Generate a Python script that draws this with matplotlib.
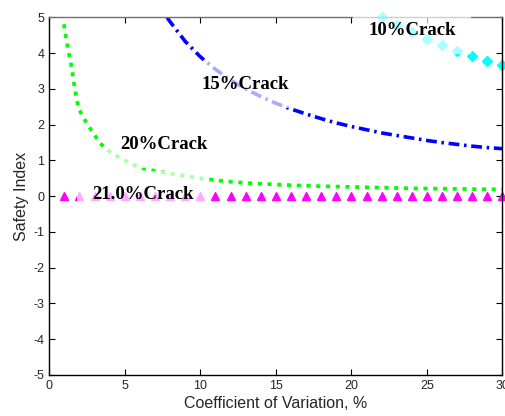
import numpy as np
import matplotlib.pyplot as plt

plt.rcParams["axes.unicode_minus"] = False

# data
x10 = [22, 23, 24, 25, 26, 27, 28, 29, 30]
y10 = [5.0, 4.78, 4.58, 4.40, 4.23, 4.07, 3.93, 3.79, 3.67]

x15 = [7.8, 8, 9, 10, 11, 12, 13, 14, 15, 16, 17, 18, 19, 20, 21, 22, 23, 24, 25, 26, 27, 28, 29, 30]
y15 = [5.0, 4.88, 4.33, 3.90, 3.55, 3.25, 3.00, 2.79, 2.60, 2.44, 2.30, 2.17, 2.05, 1.95,
       1.86, 1.77, 1.70, 1.63, 1.56, 1.50, 1.45, 1.40, 1.36, 1.33]

x20 = [0.97, 1.15, 1.32, 1.48, 1.7, 1.92, 2.15, 2.7, 3.36, 4.13, 5.13, 6, 7.2, 8.66,
       10, 11.6, 13, 15.9, 18, 20, 22, 24, 26, 28, 30]
y20 = [4.81, 4.32, 3.95, 3.60, 2.97, 2.50, 2.27, 1.90, 1.48, 1.20, 0.97, 0.80, 0.69, 0.59,
       0.50, 0.42, 0.37, 0.31, 0.28, 0.26, 0.24, 0.22, 0.21, 0.20, 0.19]

x21 = list(range(1, 31))
y21 = [0.0] * 30

labels = ["10%Crack", "15%Crack", "20%Crack", "21.0%Crack"]
label_x = [24.0, 13.0, 7.6, 6.2]
label_y = [4.64, 3.13, 1.46, 0.04]

fig = plt.figure(figsize=(5.06, 4.16), dpi=100)
ax = fig.add_axes([0.0974, 0.0986, 0.8956, 0.8594])

ax.plot(x10, y10, ls="none", marker="D", ms=5, color="#00ffff", clip_on=False)
ax.plot(x15, y15, color="#0000ff", lw=2.6, dashes=(3.0, 1.3, 0.7, 1.3), dash_capstyle="butt")
ax.plot(x20, y20, color="#00ff00", lw=2.7, dashes=(1.1, 1.5), dash_capstyle="butt")
ax.plot(x21, y21, ls="none", marker="^", ms=5.5, color="#ff00ff", clip_on=False)

for t, tx, ty in zip(labels, label_x, label_y):
    ax.text(tx, ty, t, ha="center", va="center", fontsize=13.5, fontweight="bold",
            family="Liberation Serif", zorder=5,
            bbox=dict(boxstyle="square,pad=0.8", fc="white", ec="none", alpha=0.67))

ax.set_xlim(0, 30)
ax.set_ylim(-5, 5)
ax.set_xticks(np.arange(0, 31, 5))
ax.set_yticks(np.arange(-5, 6, 1))
ax.tick_params(direction="in", length=4, top=True, right=True, labelsize=9,
               labelcolor="#262626", width=0.8)
for lab in ax.get_xticklabels() + ax.get_yticklabels():
    lab.set_family("Liberation Sans")
for s in ["left", "bottom", "right"]:
    ax.spines[s].set_color("black")
    ax.spines[s].set_linewidth(1.0)
ax.spines["top"].set_color("#707070")
ax.spines["top"].set_linewidth(1.0)

ax.set_xlabel("Coefficient of Variation, %", fontsize=11.5, family="Liberation Sans",
              color="#262626", labelpad=3)
ax.set_ylabel("Safety Index", fontsize=11.5, family="Liberation Sans",
              color="#262626", labelpad=3)

fig.savefig("out.png", dpi=100)
